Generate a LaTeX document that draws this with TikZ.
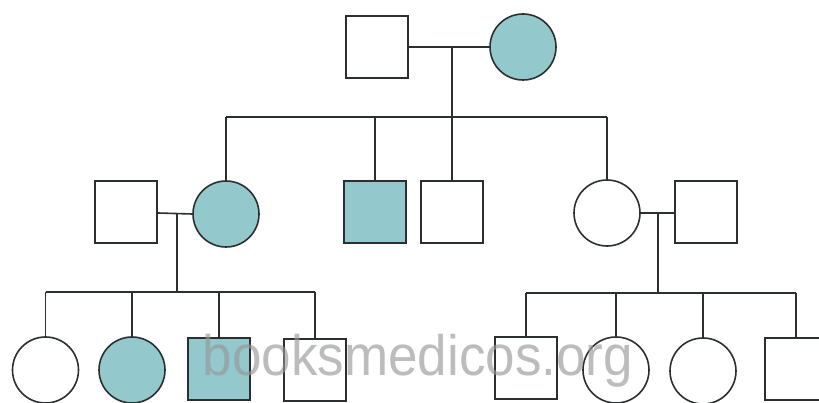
\documentclass[tikz,border=0pt]{standalone}
\usepackage{fontspec}
\newfontfamily\wmfont{Liberation Sans}
\definecolor{aff}{HTML}{93C9CC}
\definecolor{ln}{HTML}{2B2F2F}
\begin{document}
\begin{tikzpicture}[x=1pt,y=-1pt,
  line width=1.6pt,
  male/.style={draw=ln,fill=white,rectangle,minimum size=62pt,inner sep=0pt,line width=1.6pt},
  female/.style={draw=ln,fill=white,circle,minimum size=66pt,inner sep=0pt,line width=1.6pt},
  affected/.style={fill=aff},
  link/.style={draw=ln,line width=1.6pt}]
\useasboundingbox (0,0) rectangle (819,403);
\clip (0,0) rectangle (819,403);
\fill[white] (0,0) rectangle (819,403);
% generation I
\node[male] (i1) at (377,47) {};
\node[female,affected] (i2) at (523,47) {};
\coordinate (c1) at (452,47);
\coordinate (b1) at (452,117);
% generation II
\node[male] (ii1) at (126,212) {};
\node[female,affected] (ii2) at (226,214) {};
\node[male,affected] (ii3) at (375,212) {};
\node[male] (ii4) at (452,212) {};
\node[female] (ii5) at (607,213) {};
\node[male] (ii6) at (706,212) {};
\coordinate (c2) at (177,213);
\coordinate (b2) at (177,292);
\coordinate (c3) at (658,212);
\coordinate (b3) at (658,293);
% generation III
\node[female] (iii1) at (45.5,370) {};
\node[female,affected] (iii2) at (132,370) {};
\node[male,affected] (iii3) at (219,369) {};
\node[male] (iii4) at (315,370) {};
\node[male] (iii5) at (526,368) {};
\node[female] (iii6) at (616,370) {};
\node[female] (iii7) at (703,371) {};
\node[male] (iii8) at (796,369) {};
% connectors
\draw[link] (i1.east) -- (i2.west);
\draw[link] (c1) -- (b1);
\draw[link] (ii2.north |- b1) -- (ii5.north |- b1);
\foreach \n in {ii2,ii3,ii4,ii5} \draw[link] (\n.north |- b1) -- (\n.north);
\draw[link] (ii1.east |- c2) -- (ii2.west);
\draw[link] (c2) -- (b2);
\draw[link] (iii1.north |- b2) -- (iii4.north |- b2);
\foreach \n in {iii1,iii2,iii3,iii4} \draw[link] (\n.north |- b2) -- (\n.north);
\draw[link] (ii5.east) -- (ii6.west |- ii5.east);
\draw[link] (c3) -- (b3);
\draw[link] (iii5.north |- b3) -- (iii8.north |- b3);
\foreach \n in {iii5,iii6,iii7,iii8} \draw[link] (\n.north |- b3) -- (\n.north);
% watermark
\node[anchor=base west,inner sep=0pt,text=black!40,opacity=0.65,xscale=0.93,transform shape] (wm) at (202,375) {\wmfont\fontsize{57}{60}\selectfont booksmedicos.org};
\end{tikzpicture}
\end{document}
